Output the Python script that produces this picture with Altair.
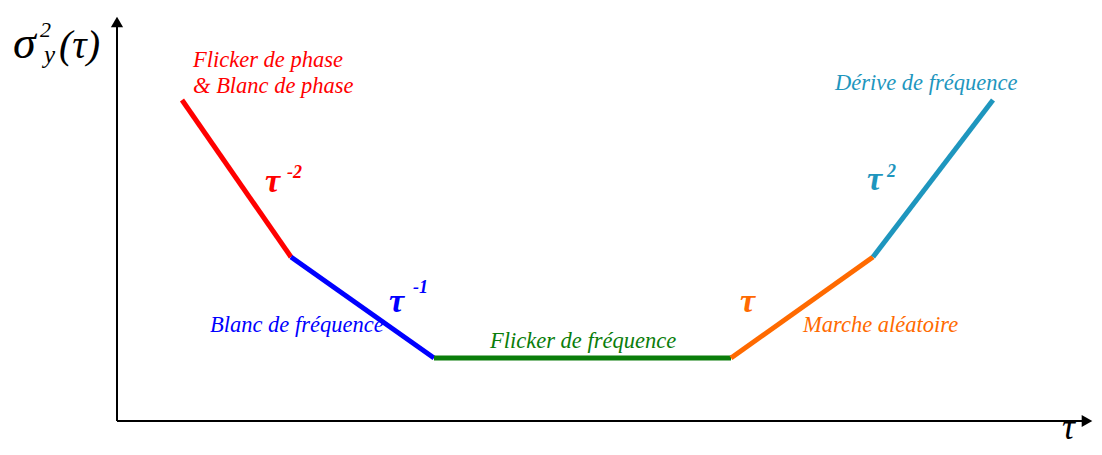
import altair as alt
import pandas as pd

# Segment breakpoints (x in pixel-like units from origin, y upward)
seg_names = ["Flicker/Blanc de phase", "Blanc de fréquence", "Flicker de fréquence", "Marche aléatoire", "Dérive de fréquence"]
seg_x1 = [65, 174, 317, 614, 756]
seg_y1 = [321, 164, 63, 63, 164]
seg_x2 = [174, 317, 614, 756, 876]
seg_y2 = [164, 63, 63, 164, 321]
seg_colors = ["#FF0000", "#0000FF", "#0A7D0A", "#FF6A00", "#1E96BE"]

segs = pd.DataFrame({"name": seg_names, "x1": seg_x1, "y1": seg_y1, "x2": seg_x2, "y2": seg_y2})

# Annotation labels
lab_text = ["Flicker de phase", "& Blanc de phase", "Blanc de fréquence", "Flicker de fréquence", "Marche aléatoire", "Dérive de fréquence"]
lab_x = [76, 76, 93, 373, 686, 718]
lab_y = [354, 328, 89, 73, 89, 331]
lab_name = ["Flicker/Blanc de phase", "Flicker/Blanc de phase", "Blanc de fréquence", "Flicker de fréquence", "Marche aléatoire", "Dérive de fréquence"]
labels = pd.DataFrame({"t": lab_text, "x": lab_x, "y": lab_y, "name": lab_name})

# Power law labels
tau_x = [148, 272, 623, 750]
tau_y = [229, 109, 109, 231]
tau_name = ["Flicker/Blanc de phase", "Blanc de fréquence", "Marche aléatoire", "Dérive de fréquence"]
taus = pd.DataFrame({"x": tau_x, "y": tau_y, "name": tau_name})
exp_text = ["-2", "-1", "2"]
exp_x = [170, 296, 770]
exp_y = [243, 128, 244]
exp_name = ["Flicker/Blanc de phase", "Blanc de fréquence", "Dérive de fréquence"]
exps = pd.DataFrame({"t": exp_text, "x": exp_x, "y": exp_y, "name": exp_name})

W, H = 1086, 439
xs = alt.Scale(domain=[-109, W - 109], nice=False, zero=False)
ys = alt.Scale(domain=[413 - H, 413], nice=False, zero=False)
cs = alt.Scale(domain=seg_names, range=seg_colors)

X = lambda f: alt.X(f, type="quantitative", scale=xs, axis=None)
Y = lambda f: alt.Y(f, type="quantitative", scale=ys, axis=None)
C = alt.Color("name:N", scale=cs, legend=None)

lines = alt.Chart(segs).mark_rule(strokeWidth=5, strokeCap="butt").encode(
    x=X("x1"), y=Y("y1"), x2="x2", y2="y2", color=C)

# axes
axes_df = pd.DataFrame({"x1": [0, 0], "y1": [0, 0], "x2": [0, 966], "y2": [394, 0]})
axes = alt.Chart(axes_df).mark_rule(strokeWidth=2, color="black").encode(
    x=X("x1"), y=Y("y1"), x2="x2", y2="y2")
arr_up = alt.Chart(pd.DataFrame({"x": [0], "y": [399]})).mark_point(
    filled=True, color="black", opacity=1, size=150, shape="triangle-up").encode(x=X("x"), y=Y("y"))
arr_right = alt.Chart(pd.DataFrame({"x": [970], "y": [0]})).mark_point(
    filled=True, color="black", opacity=1, size=150, shape="triangle-right").encode(x=X("x"), y=Y("y"))

lab = alt.Chart(labels).mark_text(font="Liberation Serif", fontStyle="italic", fontSize=22.5, align="left", baseline="alphabetic").encode(
    x=X("x"), y=Y("y"), text="t:N", color=C)

tau = alt.Chart(taus).mark_text(text="τ", font="Liberation Serif", fontStyle="italic", fontWeight="bold", fontSize=34, align="left", baseline="alphabetic").encode(
    x=X("x"), y=Y("y"), color=C)
ex = alt.Chart(exps).mark_text(font="Liberation Serif", fontStyle="italic", fontWeight="bold", fontSize=18, align="left", baseline="alphabetic").encode(
    x=X("x"), y=Y("y"), text="t:N", color=C)

# axis titles
def title_part(txt, x, y, fs):
    return alt.Chart(pd.DataFrame({"t": [txt], "x": [x], "y": [y]})).mark_text(
        font="Liberation Serif", fontStyle="italic", color="black", fontSize=fs,
        align="left", baseline="alphabetic").encode(x=X("x"), y=Y("y"), text="t:N")

titles = [
    title_part("σ", -104, 363, 46),
    title_part("2", -77, 384, 22),
    title_part("y", -73, 358, 25),
    title_part("(τ)", -58, 363, 40),
    title_part("τ", 945, -18, 36),
]

chart = alt.layer(axes, arr_up, arr_right, lines, lab, tau, ex, *titles).properties(
    width=W, height=H, padding=0, autosize="none"
).configure_view(stroke=None)

chart.save("out.html", embed_options={"renderer": "svg", "actions": False})
